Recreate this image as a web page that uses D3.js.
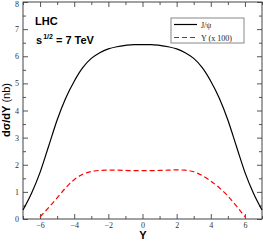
<!DOCTYPE html>
<html><head><meta charset="utf-8">
<script src="https://cdn.jsdelivr.net/npm/d3@7"></script>
<style>body{margin:0;background:#fff}svg{display:block}</style>
</head><body>
<svg id="c" width="263" height="241"></svg>
<script>
const rapidity = [-7,-6.5,-6,-5.5,-5,-4.5,-4,-3.5,-3,-2.5,-2,-1.5,-1,-0.5,0,0.5,1,1.5,2,2.5,3,3.5,4,4.5,5,5.5,6,6.5,7];
const jpsi = [0.33,0.95,1.72,2.68,3.65,4.45,5.08,5.58,5.92,6.13,6.27,6.35,6.40,6.43,6.43,6.43,6.40,6.35,6.27,6.13,5.92,5.58,5.08,4.45,3.65,2.68,1.72,0.95,0.33];
const upsRap = [-6,-5.5,-5,-4.5,-4,-3.5,-3,-2.5,-2,-1.5,-1,-0.5,0,0.5,1,1.5,2,2.5,3,3.5,4,4.5,5,5.5,6];
const upsilon = [0.08,0.42,0.78,1.15,1.45,1.65,1.75,1.79,1.80,1.80,1.79,1.78,1.78,1.78,1.79,1.80,1.81,1.80,1.74,1.6,1.4,1.15,0.85,0.48,0.08];
const xTicks = [-6,-4,-2,0,2,4,6];
const yTicks = [0,1,2,3,4,5,6,7,8];
const legendLabels = ["J/\u03c8", "\u03a5 (x 100)"];

const svg = d3.select("#c");
const L=23, R=262, T=2, B=219;
const x = d3.scaleLinear().domain([-7,7]).range([L,R]);
const y = d3.scaleLinear().domain([0,8]).range([B,T]);
const serif = "'Liberation Serif','DejaVu Serif',serif";
const sans = "'Liberation Sans',Arial,sans-serif";

const gx = svg.append("g").attr("transform",`translate(0,${B})`)
  .call(d3.axisBottom(x).tickValues(xTicks).tickSize(-5).tickPadding(3).tickFormat(d3.format("d")));
const gxm = svg.append("g").attr("transform",`translate(0,${B})`)
  .call(d3.axisBottom(x).tickValues(d3.range(-7,8,1).filter(v=>v%2!==0)).tickSize(-3).tickFormat(""));
const gxt = svg.append("g").attr("transform",`translate(0,${T})`)
  .call(d3.axisTop(x).tickValues(xTicks).tickSize(-5).tickFormat(""));
const gxtm = svg.append("g").attr("transform",`translate(0,${T})`)
  .call(d3.axisTop(x).tickValues(d3.range(-7,8,1).filter(v=>v%2!==0)).tickSize(-3).tickFormat(""));
const gy = svg.append("g").attr("transform",`translate(${L},0)`)
  .call(d3.axisLeft(y).tickValues(yTicks).tickSize(-5).tickPadding(4).tickFormat(d3.format("d")));
const gym = svg.append("g").attr("transform",`translate(${L},0)`)
  .call(d3.axisLeft(y).tickValues(d3.range(0.5,8,1)).tickSize(-3).tickFormat(""));
const gyr = svg.append("g").attr("transform",`translate(${R},0)`)
  .call(d3.axisRight(y).tickValues(yTicks).tickSize(-5).tickFormat(""));
const gyrm = svg.append("g").attr("transform",`translate(${R},0)`)
  .call(d3.axisRight(y).tickValues(d3.range(0.5,8,1)).tickSize(-3).tickFormat(""));
[gx,gxm,gxt,gxtm,gy,gym,gyr,gyrm].forEach(g=>{
  g.select(".domain").remove();
  g.selectAll("line").attr("stroke","#555").attr("stroke-width",1);
  g.selectAll("text").attr("font-family",serif).attr("font-size",8).attr("fill","#333");
});
gy.selectAll("text").attr("dy",d=>d===8?"0.62em":"0.32em");

svg.append("rect").attr("x",L).attr("y",T).attr("width",R-L).attr("height",B-T)
  .attr("fill","none").attr("stroke","#444").attr("stroke-width",1);

const line = d3.line().curve(d3.curveMonotoneX);
svg.append("path")
  .attr("d", line(rapidity.map((r,i)=>[x(r),y(jpsi[i])])))
  .attr("fill","none").attr("stroke","#000").attr("stroke-width",1.2);
svg.append("path")
  .attr("d", line(upsRap.map((r,i)=>[x(r),y(upsilon[i])])))
  .attr("fill","none").attr("stroke","#ff0000").attr("stroke-width",1.2).attr("stroke-dasharray","5,3");

svg.append("rect").attr("x",171).attr("y",18).attr("width",73).attr("height",25)
  .attr("fill","#fff").attr("stroke","#888").attr("stroke-width",1);
const leg = [{c:"#000",d:null},{c:"#ff0000",d:"5,3"}];
leg.forEach((l,i)=>{
  const yy = 24.5 + i*13;
  svg.append("line").attr("x1",174).attr("x2",197).attr("y1",yy).attr("y2",yy)
    .attr("stroke",l.c).attr("stroke-width",1.2).attr("stroke-dasharray",l.d);
  svg.append("text").attr("x",201).attr("y",yy+3).text(legendLabels[i])
    .attr("font-family",serif).attr("font-size",8).attr("fill","#222");
});

svg.append("text").attr("x",35).attr("y",25).text("LHC")
  .attr("font-family",sans).attr("font-weight","bold").attr("font-size",11);
const t = svg.append("text").attr("x",36).attr("y",44)
  .attr("font-family",sans).attr("font-weight","bold").attr("font-size",11);
t.append("tspan").text("s");
t.append("tspan").attr("font-size",7).attr("dy",-5).attr("dx",1).text("1/2");
t.append("tspan").attr("dy",5).text(" = 7 TeV");

svg.append("text").attr("x",143).attr("y",239).attr("text-anchor","middle")
  .attr("font-family",sans).attr("font-weight","bold").attr("font-size",11).text("Y");

const yl = svg.append("text").attr("transform","translate(10,110) rotate(-90)")
  .attr("text-anchor","middle").attr("font-family",sans).attr("font-size",11);
yl.append("tspan").attr("font-weight","bold").text("d\u03c3/dY");
yl.append("tspan").text(" (nb)");
</script>
</body></html>
